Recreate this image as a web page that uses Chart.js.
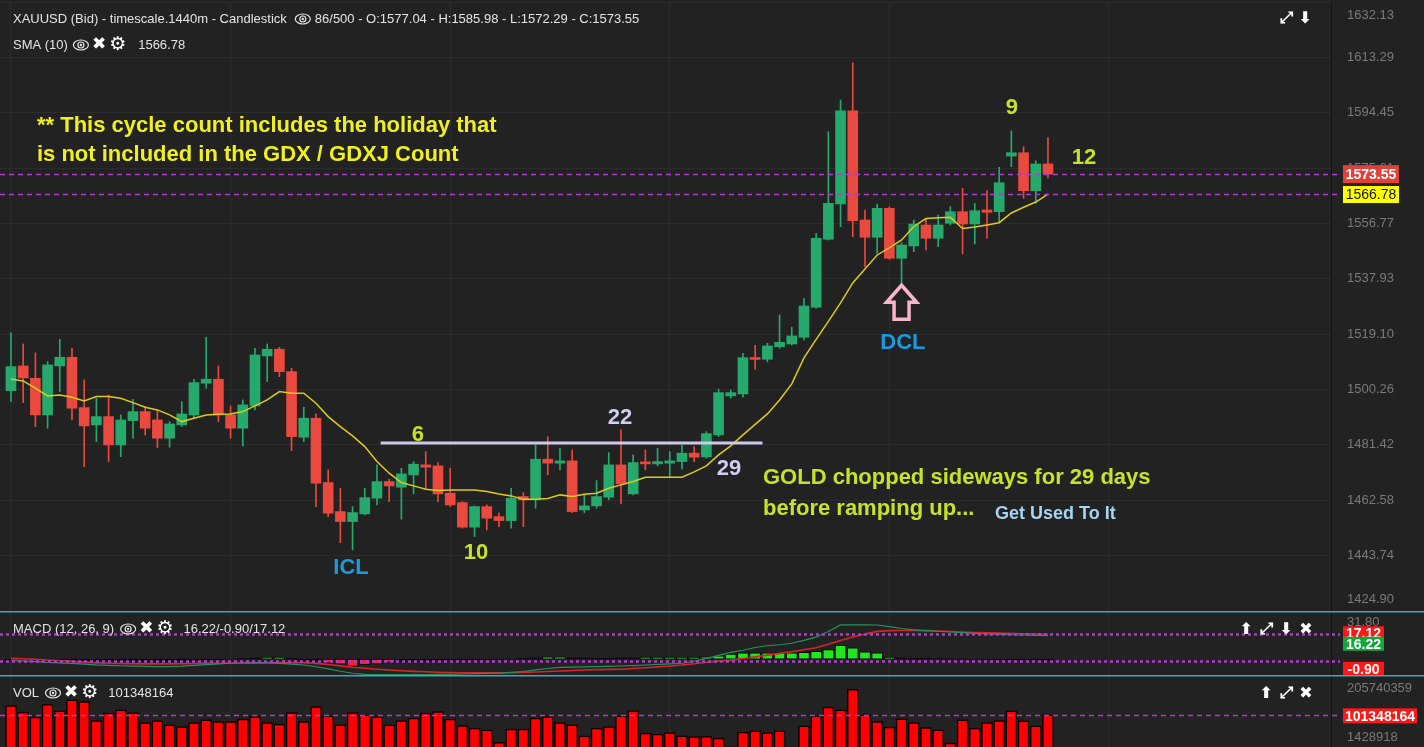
<!DOCTYPE html>
<html><head><meta charset="utf-8">
<script src="https://cdn.jsdelivr.net/npm/chart.js@4.4.1/dist/chart.umd.min.js"></script>
<style>
html,body{margin:0;padding:0;background:#222222;}
body{width:1424px;height:747px;overflow:hidden;position:relative;}
canvas{position:absolute;left:0;}
</style></head><body>
<canvas id="cMain" width="1424" height="611" style="top:0px"></canvas>
<canvas id="cMacd" width="1424" height="64" style="top:611px"></canvas>
<canvas id="cVol" width="1424" height="78" style="top:675px"></canvas>
<script>
const opens = [1499.89,1508.29,1504.11,1491.62,1508.29,1511.25,1494.11,1488.22,1491.05,1481.42,
1489.69,1492.75,1489.92,1483.70,1488.22,1491.62,1502.41,1503.77,1491.62,1487.10,
1494.69,1511.69,1513.97,1506.35,1484.04,1490.50,1468.60,1458.73,1455.33,1457.95,
1463.29,1468.94,1467.03,1471.22,1474.62,1474.28,1464.99,1461.79,1453.43,1460.43,
1457.03,1455.67,1463.84,1462.71,1476.56,1475.20,1475.98,1459.31,1460.67,1463.63,
1474.62,1464.75,1475.64,1474.96,1475.20,1475.74,1478.60,1477.34,1484.82,1498.09,
1498.77,1511.18,1510.57,1514.86,1515.77,1518.05,1528.26,1551.39,1563.39,1595.13,
1557.95,1552.07,1561.93,1544.92,1549.11,1556.25,1551.73,1556.83,1560.77,1556.59,
1561.35,1560.77,1579.72,1580.84,1567.92,1577.04];
const highs = [1519.52,1515.77,1512.71,1509.75,1517.37,1514.31,1503.53,1497.30,1498.43,1491.62,
1496.96,1494.45,1493.32,1489.35,1496.15,1503.77,1518.05,1508.29,1494.69,1496.73,
1514.31,1515.77,1514.65,1507.51,1494.24,1491.96,1472.92,1466.69,1460.43,1466.69,
1474.62,1469.75,1473.49,1475.74,1479.14,1475.40,1473.49,1462.13,1460.67,1461.01,
1458.19,1466.69,1465.20,1481.42,1484.24,1480.30,1479.72,1464.41,1469.28,1478.80,
1486.52,1478.02,1479.72,1480.30,1479.14,1481.42,1480.84,1485.94,1500.37,1500.13,
1512.61,1515.26,1516.01,1525.64,1521.45,1531.32,1553.43,1587.99,1598.77,1611.46,
1561.35,1563.39,1562.40,1550.23,1557.95,1558.53,1559.65,1562.48,1568.73,1563.63,
1567.92,1575.88,1588.32,1582.88,1578.12,1585.98];
const lows = [1496.15,1495.81,1487.64,1487.10,1499.55,1489.92,1474.04,1482.54,1475.74,1477.44,
1483.70,1484.82,1480.50,1480.64,1487.64,1490.50,1500.71,1489.35,1483.70,1481.08,
1493.32,1502.95,1504.65,1479.48,1482.54,1460.43,1457.03,1448.19,1445.71,1457.61,
1461.01,1462.13,1456.15,1464.75,1466.35,1462.13,1460.50,1453.09,1450.23,1452.51,
1453.63,1453.09,1453.63,1459.89,1471.22,1472.92,1458.39,1458.39,1459.89,1462.71,
1461.35,1464.41,1472.92,1474.28,1470.64,1473.15,1475.74,1476.90,1484.24,1497.30,
1497.64,1507.10,1509.75,1514.31,1515.43,1517.13,1527.92,1551.15,1555.67,1552.27,
1542.07,1546.62,1544.60,1536.42,1547.17,1547.75,1548.87,1556.25,1546.39,1549.79,
1551.73,1557.37,1576.08,1565.33,1563.63,1572.29];
const closes = [1508.05,1504.21,1491.62,1508.63,1511.25,1493.90,1487.88,1491.05,1481.42,1489.92,
1492.75,1487.10,1483.70,1488.56,1491.96,1502.61,1503.77,1491.62,1487.10,1495.03,
1512.03,1513.97,1506.35,1484.24,1490.50,1468.39,1458.19,1455.33,1458.39,1463.49,
1468.94,1467.47,1471.56,1474.86,1473.83,1464.75,1461.01,1453.43,1460.43,1456.49,
1455.67,1463.29,1462.71,1476.56,1475.20,1475.98,1458.73,1460.67,1463.84,1474.62,
1468.15,1475.40,1474.96,1475.74,1475.98,1478.60,1477.24,1485.26,1499.21,1499.21,
1511.11,1510.50,1515.09,1516.35,1518.49,1528.70,1551.73,1563.63,1595.13,1557.71,
1552.07,1561.93,1544.92,1549.45,1556.59,1551.73,1556.25,1560.77,1556.59,1561.11,
1560.57,1570.64,1580.84,1567.92,1577.00,1573.55];
const sma10 = [1503.87,1503.19,1500.71,1498.09,1498.43,1497.64,1496.39,1497.85,1497.85,1497.30,
1495.81,1494.24,1493.32,1491.62,1489.35,1490.50,1491.62,1491.86,1491.96,1492.75,
1494.69,1496.73,1499.55,1499.00,1499.00,1495.60,1491.05,1487.64,1484.48,1480.84,
1475.74,1471.79,1468.60,1467.47,1466.35,1465.88,1466.11,1466.11,1466.11,1465.54,
1464.75,1464.07,1462.95,1462.95,1463.15,1464.41,1463.84,1464.65,1464.99,1466.69,
1467.81,1468.94,1470.43,1470.43,1470.43,1470.43,1472.24,1474.28,1478.02,1481.08,
1484.82,1488.39,1491.96,1496.73,1502.17,1511.01,1517.30,1523.43,1529.72,1536.52,
1541.28,1546.05,1548.43,1551.15,1555.74,1558.46,1558.73,1558.87,1555.06,1555.57,
1556.25,1557.03,1560.33,1562.27,1564.07,1566.78];
const macdLine = [-0.7,-1.2,-1.8,-2.3,-2.6,-3.0,-3.5,-4.0,-4.3,-4.6,
-4.9,-5.1,-5.2,-5.2,-4.9,-4.3,-3.8,-3.3,-2.9,-2.7,
-2.5,-2.6,-3.0,-3.5,-4.1,-5.3,-6.8,-8.4,-9.8,-10.6,
-10.7,-10.7,-10.7,-10.7,-10.7,-10.6,-10.5,-10.3,-10.1,-9.9,
-9.7,-9.2,-8.6,-7.5,-6.5,-5.8,-5.6,-5.4,-5.2,-5.0,
-4.8,-4.5,-4.1,-3.7,-3.3,-2.9,-1.5,0.5,2.5,4.6,
6.1,8.0,9.2,9.9,10.9,12.9,15.1,19.0,23.6,23.6,
23.6,23.5,22.4,21.1,20.2,19.7,19.2,18.7,18.2,17.7,
17.3,17.0,16.8,16.6,16.4,16.22];
const signalLine = [0.5,0.2,-0.2,-0.6,-1.0,-1.5,-2.1,-2.6,-2.9,-3.1,
-3.2,-3.3,-3.3,-3.3,-3.2,-3.1,-3.0,-2.9,-2.8,-2.7,
-2.6,-2.5,-2.5,-2.5,-2.5,-3.0,-3.8,-4.7,-5.6,-6.3,
-7.0,-7.6,-8.1,-8.5,-8.8,-9.1,-9.3,-9.4,-9.5,-9.5,
-9.5,-9.4,-9.2,-8.9,-8.6,-8.2,-7.9,-7.6,-7.3,-7.1,
-7.0,-6.5,-6.0,-5.4,-4.8,-4.1,-3.2,-2.2,-1.4,-0.7,
0.4,1.5,2.7,3.9,5.1,6.4,7.8,10.2,12.8,15.2,
17.2,19.1,19.6,19.7,19.7,19.6,19.3,19.0,18.6,18.3,
18.1,17.9,17.7,17.5,17.3,17.12];
const macdHist = [-1.2,-1.4,-1.6,-1.7,-1.6,-1.5,-1.4,-1.4,-1.4,-1.5,
-1.7,-1.8,-1.9,-1.9,-1.7,-1.2,-0.8,-0.4,-0.1,0.4,
0.8,1.3,1.3,0.6,-0.9,-1.8,-2.6,-3.6,-5.0,-3.8,
-3.4,-2.4,-1.8,-1.6,-1.3,-1.0,-0.8,-0.6,-0.4,-0.3,
-0.2,0.2,0.6,0.9,1.5,1.5,0.9,0.8,0.7,0.7,
0.8,0.9,1.3,1.3,1.3,1.3,1.4,1.5,2.2,3.4,
4.3,4.3,4.3,4.3,4.3,4.6,5.4,6.6,9.5,7.7,
5.0,4.3,1.3,0.9,0.7,0.5,0.3,0.2,0.1,-0.1,
-0.3,-0.4,-0.5,-0.6,-0.8,-0.9];
const volumes = [126200000,108500000,95100000,129900000,112000000,141500000,136900000,86000000,105900000,114700000,
107500000,80700000,86000000,74500000,70000000,80700000,87900000,83400000,83400000,89800000,
96800000,80700000,76400000,107500000,83400000,123500000,98600000,74500000,107500000,101300000,
96800000,74500000,86000000,92500000,105900000,110100000,89800000,72700000,65700000,61200000,
27200000,63000000,63000000,92500000,96800000,80700000,74500000,45100000,65700000,70000000,
98600000,112800000,52300000,49600000,53900000,45100000,43200000,43800000,38900000,15000000,
55000000,58500000,53900000,58500000,14000000,71900000,98600000,121900000,114700000,170100000,
101300000,83400000,68400000,90600000,80700000,67300000,61200000,25500000,87900000,65700000,
80700000,86000000,112000000,85200000,71900000,101348164];
const priceTicks = [1424.90,1443.74,1462.58,1481.42,1500.26,1519.10,1537.93,1556.77,1575.61,1594.45,1613.29,1632.13];
const macdTicks = [31.80];
const volTicks = [205740359, 1428918];
const timeGridIdx = [0,18,36,54,72,90];
// chart annotations (anchored to bar index / price)
const noteTexts = [
  {t:'** This cycle count includes the holiday that', i:2.13, p:1589.92, c:'#f0f020', a:'left', s:22},
  {t:'is not included in the GDX / GDXJ Count', i:2.13, p:1580.06, c:'#f0f020', a:'left', s:22},
  {t:'6', i:33.36, p:1484.82, c:'#c6e32a', a:'center', s:22},
  {t:'10', i:38.11, p:1444.69, c:'#c6e32a', a:'center', s:22},
  {t:'ICL', i:27.87, p:1439.58, c:'#1a9be0', a:'center', s:22},
  {t:'22', i:49.92, p:1490.60, c:'#cfcdf0', a:'center', s:22},
  {t:'29', i:58.85, p:1473.26, c:'#cfcdf0', a:'center', s:22},
  {t:'GOLD chopped sideways for 29 days', i:61.64, p:1470.20, c:'#c6e32a', a:'left', s:22},
  {t:'before ramping up...', i:61.64, p:1459.65, c:'#c6e32a', a:'left', s:22},
  {t:'Get Used To It', i:80.66, p:1457.95, c:'#a6d4f2', a:'left', s:18},
  {t:'DCL', i:73.11, p:1516.11, c:'#1a9be0', a:'center', s:22},
  {t:'9', i:82.05, p:1596.05, c:'#c6e32a', a:'center', s:22},
  {t:'12', i:87.95, p:1579.04, c:'#c6e32a', a:'center', s:22}
];
const rangeLine = {i0:30.3, i1:61.6, p:1482.1};
const dclArrowIdx = 73;

const GREEN = '#26a96c', RED = '#e9493e', BG = '#222222', GRID = '#2c2c2c';
const FONT = '"Liberation Sans", Arial, sans-serif';
const idx = closes.map((_, i) => i);
const X_MIN = -0.9, X_MAX = 108.2;

function xAxis() {
  return { type:'linear', min:X_MIN, max:X_MAX, offset:false,
    afterBuildTicks: s => { s.ticks = timeGridIdx.map(v => ({value:v})); },
    ticks:{display:false}, border:{display:false},
    grid:{color:GRID, lineWidth:1, drawTicks:false, offset:false} };
}
function yAxis(min, max, ticks, showGrid) {
  return { type:'linear', position:'right', min, max, beginAtZero:false,
    afterFit: s => { s.width = 93; },
    afterBuildTicks: s => { s.ticks = ticks.map(v => ({value:v})); },
    ticks:{display:false}, border:{display:true, color:'#141414', width:1},
    grid:{display:showGrid, color:GRID, drawTicks:false} };
}
const bgPlugin = { id:'bg', beforeDraw(chart) {
  const c = chart.ctx; c.save(); c.fillStyle = BG; c.fillRect(0,0,chart.width,chart.height); c.restore(); } };

function drawEye(c, x, cy) {
  c.save(); c.strokeStyle = '#e8e8e8'; c.fillStyle = '#e8e8e8'; c.lineWidth = 1.2;
  c.beginPath(); c.ellipse(x+8, cy, 7.5, 5, 0, 0, Math.PI*2); c.stroke();
  c.beginPath(); c.arc(x+8, cy, 3, 0, Math.PI*2); c.stroke();
  c.beginPath(); c.arc(x+8, cy, 1.2, 0, Math.PI*2); c.fill();
  c.restore(); return 17;
}
function drawHeader(c, x, y, items) {
  c.save(); c.textBaseline = 'middle'; c.textAlign = 'left';
  for (const it of items) {
    if (it.gap) { x += it.gap; continue; }
    if (it.eye) { x += drawEye(c, x, y); continue; }
    c.font = it.f || ('13px ' + FONT);
    c.fillStyle = it.c || '#e4e4e4';
    c.fillText(it.t, x, y + (it.dy || 0));
    x += c.measureText(it.t).width;
  }
  c.restore();
}
function iconRow(c, xs, y, syms) {
  c.save(); c.textBaseline = 'middle'; c.textAlign = 'center'; c.fillStyle = '#ffffff';
  c.font = 'bold 16px "DejaVu Sans", sans-serif';
  syms.forEach((s, k) => c.fillText(s, xs[k], y));
  c.restore();
}
const X_ICON = {t:'\u2716', f:'bold 17px "DejaVu Sans", sans-serif', c:'#ffffff'};
const GEAR_ICON = {t:'\u2699', f:'bold 19px "DejaVu Sans", sans-serif', c:'#ffffff'};

function axisLabels(chart, ticks, fmt, lo, hi) {
  const c = chart.ctx, ys = chart.scales.y;
  c.save(); c.font = '13px ' + FONT; c.fillStyle = '#7a7a7a'; c.textBaseline = 'middle'; c.textAlign = 'left';
  ticks.forEach(v => { let y = ys.getPixelForValue(v); y = Math.max(lo, Math.min(hi, y)); c.fillText(fmt(v), 1347, y); });
  c.restore();
}
function valueBox(c, x, w, y, h, fill, txt, tcol, bold) {
  c.save(); c.fillStyle = fill; c.fillRect(x, y - h/2, w, h);
  c.font = (bold ? 'bold ' : '') + '14px ' + FONT; c.fillStyle = tcol; c.textAlign = 'center'; c.textBaseline = 'middle';
  c.fillText(txt, x + w/2, y + 1); c.restore();
}
function levelLine(c, y, x1, dash, lw) {
  c.save(); c.strokeStyle = '#b03ccb'; c.lineWidth = lw; c.setLineDash(dash);
  c.beginPath(); c.moveTo(0, y); c.lineTo(x1, y); c.stroke(); c.restore();
}
function cyanLine(c, w) {
  c.save(); c.strokeStyle = '#3ea6c8'; c.lineWidth = 1.5; c.beginPath(); c.moveTo(0, 0.75); c.lineTo(w, 0.75); c.stroke(); c.restore();
}

const mainPlugin = {
  id:'mainDeco',
  afterDatasetsDraw(chart) {
    const c = chart.ctx, xs = chart.scales.x, ys = chart.scales.y;
    const last = closes.length - 1;
    levelLine(c, Math.round(ys.getPixelForValue(closes[last])) + 0.5, 1340, [5,4], 1.6);
    levelLine(c, Math.round(ys.getPixelForValue(sma10[last])) + 0.5, 1340, [5,4], 1.6);
    c.save(); c.strokeStyle = '#cbc8ec'; c.lineWidth = 3;
    const ry = ys.getPixelForValue(rangeLine.p);
    c.beginPath(); c.moveTo(xs.getPixelForValue(rangeLine.i0), ry); c.lineTo(xs.getPixelForValue(rangeLine.i1), ry); c.stroke(); c.restore();
    const ax = xs.getPixelForValue(dclArrowIdx), ay = ys.getPixelForValue(lows[dclArrowIdx]) + 2;
    c.save(); c.strokeStyle = '#f6b5ca'; c.lineWidth = 3.5; c.lineJoin = 'miter';
    c.beginPath(); c.moveTo(ax, ay); c.lineTo(ax + 15, ay + 17); c.lineTo(ax + 7.5, ay + 17); c.lineTo(ax + 7.5, ay + 34);
    c.lineTo(ax - 7.5, ay + 34); c.lineTo(ax - 7.5, ay + 17); c.lineTo(ax - 15, ay + 17); c.closePath(); c.stroke(); c.restore();
    c.save(); c.textBaseline = 'middle';
    noteTexts.forEach(n => {
      c.font = 'bold ' + n.s + 'px ' + FONT; c.fillStyle = n.c; c.textAlign = n.a;
      c.fillText(n.t, xs.getPixelForValue(n.i), ys.getPixelForValue(n.p));
    });
    c.restore();
  },
  afterDraw(chart) {
    const c = chart.ctx, ys = chart.scales.y;
    const last = closes.length - 1;
    axisLabels(chart, priceTicks, v => v.toFixed(2), 15, 599);
    valueBox(c, 1343, 56, ys.getPixelForValue(closes[last]), 18, '#e0413a', closes[last].toFixed(2), '#ffffff', true);
    valueBox(c, 1343, 56, ys.getPixelForValue(sma10[last]) + 0.5, 17, '#ffff00', sma10[last].toFixed(2), '#111111', false);
    drawHeader(c, 13, 19, [
      {t:'XAUUSD (Bid) - timescale.1440m - Candlestick'}, {gap:8}, {eye:1}, {gap:3},
      {t:'86/500 - O:' + opens[last].toFixed(2) + ' - H:' + highs[last].toFixed(2) + ' - L:' + lows[last].toFixed(2) + ' - C:' + closes[last].toFixed(2)}
    ]);
    drawHeader(c, 13, 45, [
      {t:'SMA (10)'}, {gap:5}, {eye:1}, {gap:2}, X_ICON, {gap:3}, GEAR_ICON, {gap:12}, {t:sma10[last].toFixed(2)}
    ]);
    iconRow(c, [1286, 1305], 19, ['\u2922', '\u2B07']);
  }
};

new Chart(document.getElementById('cMain'), {
  type:'bar',
  data:{ datasets:[
    {type:'line', label:'SMA (10)', data: idx.map(i => ({x:i, y:sma10[i]})), borderColor:'#dccb1e', borderWidth:1.5, pointRadius:0, tension:0, order:0},
    {label:'body', data: idx.map(i => ({x:i, y:[opens[i], closes[i]]})),
      backgroundColor: ctx => closes[ctx.dataIndex] >= opens[ctx.dataIndex] ? GREEN : RED,
      barThickness:10, grouped:false, minBarLength:2, borderWidth:0, borderSkipped:false, order:1},
    {label:'wick', data: idx.map(i => ({x:i, y:[lows[i], highs[i]]})),
      backgroundColor: ctx => closes[ctx.dataIndex] >= opens[ctx.dataIndex] ? GREEN : RED,
      barThickness:1, grouped:false, borderWidth:0, borderSkipped:false, order:2}
  ]},
  options:{ responsive:false, animation:false, devicePixelRatio:1,
    layout:{padding:{top:2, bottom:0, left:0, right:0}},
    plugins:{legend:{display:false}, tooltip:{enabled:false}},
    scales:{ x:xAxis(), y:yAxis(1424.90, 1632.13, priceTicks, true) } },
  plugins:[bgPlugin, mainPlugin]
});

const histColor = v => v > 1 ? '#1fe61f' : (v < -2 ? '#ff1e1e' : '#080808');
const macdPlugin = {
  id:'macdDeco',
  afterDatasetsDraw(chart) {
    const c = chart.ctx, ys = chart.scales.y, last = macdLine.length - 1;
    levelLine(c, Math.round(ys.getPixelForValue(signalLine[last])) + 0.5, 1340, [3,3], 2.5);
    levelLine(c, Math.round(ys.getPixelForValue(macdHist[last])) + 1.5, 1340, [3,3], 2.5);
  },
  afterDraw(chart) {
    const c = chart.ctx, ys = chart.scales.y, last = macdLine.length - 1;
    cyanLine(c, chart.width);
    axisLabels(chart, macdTicks, v => v.toFixed(2), 11, 58);
    const sy = ys.getPixelForValue(signalLine[last]) - 1;
    valueBox(c, 1343, 41, sy, 14, '#ff1616', signalLine[last].toFixed(2), '#ffffff', true);
    valueBox(c, 1343, 41, sy + 10.5, 14, '#12a83a', macdLine[last].toFixed(2), '#ffffff', true);
    valueBox(c, 1343, 41, ys.getPixelForValue(macdHist[last]) + 8.5, 14, '#ff1616', macdHist[last].toFixed(2), '#ffffff', true);
    drawHeader(c, 13, 18, [
      {t:'MACD (12, 26, 9)'}, {gap:6}, {eye:1}, {gap:2}, X_ICON, {gap:3}, GEAR_ICON, {gap:10},
      {t:macdLine[last].toFixed(2) + '/' + macdHist[last].toFixed(2) + '/' + signalLine[last].toFixed(2)}
    ]);
    iconRow(c, [1246, 1266, 1286, 1306], 19, ['\u2B06', '\u2922', '\u2B07', '\u2716']);
  }
};
new Chart(document.getElementById('cMacd'), {
  type:'bar',
  data:{ datasets:[
    {type:'line', label:'MACD', data: idx.map(i => ({x:i, y:macdLine[i]})), borderColor:'#23935f', borderWidth:1.2, pointRadius:0, tension:0, order:0},
    {type:'line', label:'Signal', data: idx.map(i => ({x:i, y:signalLine[i]})), borderColor:'#d42626', borderWidth:1.6, pointRadius:0, tension:0, order:1},
    {label:'Hist', data: idx.map(i => ({x:i, y:macdHist[i]})), backgroundColor: ctx => histColor(macdHist[ctx.dataIndex]),
      borderColor:'#050505', borderWidth:1, borderSkipped:false, barThickness:11, grouped:false, order:2}
  ]},
  options:{ responsive:false, animation:false, devicePixelRatio:1,
    layout:{padding:{top:2, bottom:0, left:0, right:0}},
    plugins:{legend:{display:false}, tooltip:{enabled:false}},
    scales:{ x:xAxis(), y:yAxis(-11, 31.8, macdTicks, false) } },
  plugins:[bgPlugin, macdPlugin]
});

const volPlugin = {
  id:'volDeco',
  afterDatasetsDraw(chart) {
    const ys = chart.scales.y, last = volumes.length - 1;
    levelLine(chart.ctx, Math.round(ys.getPixelForValue(volumes[last])) + 0.5, 1340, [5,4], 1.6);
  },
  afterDraw(chart) {
    const c = chart.ctx, ys = chart.scales.y, last = volumes.length - 1;
    cyanLine(c, chart.width);
    axisLabels(chart, volTicks, v => String(v), 13, 62);
    valueBox(c, 1343, 74, ys.getPixelForValue(volumes[last]) + 1, 15, '#ff1616', String(volumes[last]), '#ffffff', true);
    drawHeader(c, 13, 18, [
      {t:'VOL'}, {gap:6}, {eye:1}, {gap:2}, X_ICON, {gap:3}, GEAR_ICON, {gap:10}, {t:String(volumes[last])}
    ]);
    iconRow(c, [1266, 1286, 1306], 19, ['\u2B06', '\u2922', '\u2716']);
  }
};
new Chart(document.getElementById('cVol'), {
  type:'bar',
  data:{ datasets:[
    {label:'VOL', data: idx.map(i => ({x:i, y:volumes[i]})), backgroundColor:'#ff0000', borderColor:'#120000', borderWidth:1.5, borderSkipped:false, barThickness:11, grouped:false}
  ]},
  options:{ responsive:false, animation:false, devicePixelRatio:1,
    layout:{padding:{top:1, bottom:1, left:0, right:0}},
    plugins:{legend:{display:false}, tooltip:{enabled:false}},
    scales:{ x:xAxis(), y:yAxis(1428918, 205740359, volTicks, false) } },
  plugins:[bgPlugin, volPlugin]
});
</script>
</body></html>
